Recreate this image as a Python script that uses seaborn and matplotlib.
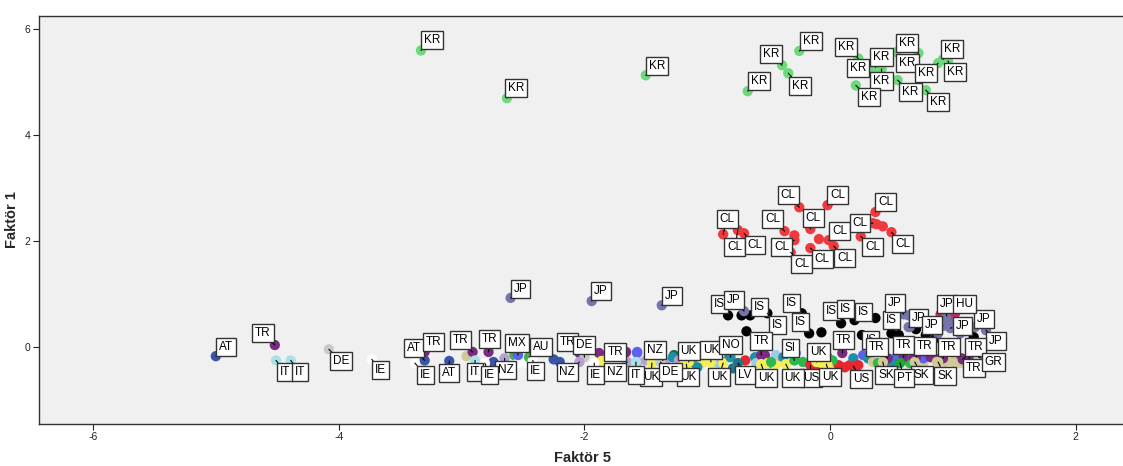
import matplotlib
matplotlib.use("Agg")
import matplotlib.pyplot as plt
import seaborn as sns
import pandas as pd

# ---------------- data ----------------
# labelled points: country code, Faktör 5 (x), Faktör 1 (y)
lab_code = (["KR"] * 19 + ["CL"] * 16 + ["JP"] * 3 + ["IS"] * 10 + ["JP"] * 8 + ["HU"]
            + ["TR"] * 8 + ["GR"] + ["SK"] * 3 + ["PT"] + ["US"] * 2 + ["UK"] * 9
            + ["NO", "LV", "SI"]
            + ["AT", "TR", "IT", "IT", "DE", "IE", "AT", "TR", "IE", "AT", "TR", "IT", "TR",
               "NZ", "IE", "MX", "AU", "IE", "TR", "DE", "NZ", "IE", "TR", "NZ", "NZ", "IT", "DE"])
lab_f5 = [-3.33, -2.63, -1.50, -0.25, -0.39, -0.34, -0.67, 0.23, 0.32, 0.37, 0.42, 0.21,
          0.54, 0.72, 0.55, 0.78, 0.92, 0.88, 0.96,
          -0.87, -0.75, -0.70, -0.37, -0.25, -0.02, -0.29, -0.32, -0.16, -0.16, -0.01, 0.03,
          0.37, 0.35, 0.25, 0.50,
          -2.60, -1.94, -1.37,
          -0.83, -0.65, -0.51, -0.23, -0.17, 0.09, 0.20, 0.26, 0.50, 0.37,
          -0.70, 0.60, 0.64, 0.95, 0.98, 0.92, 1.18, 1.27,
          1.02,
          -0.56, 0.10, 0.47, 0.60, 0.70, 0.92, 1.08, 1.13,
          1.21,
          0.43, 0.69, 0.88,
          0.57,
          -0.16, 0.19,
          -1.15, -0.97, -1.45, -1.17, -0.87, -0.56, -0.36, -0.11, -0.03,
          -0.81, -0.75, -0.29,
          -5.00, -4.52, -4.51, -4.39, -4.08, -3.73, -3.30, -3.30, -3.38, -3.10, -2.91, -2.89,
          -2.78, -2.65, -2.81, -2.54, -2.45, -2.42, -2.04, -2.00, -2.04, -1.92, -1.66, -1.65,
          -1.36, -1.58, -1.38]
lab_f1 = [5.60, 4.70, 5.13, 5.59, 5.32, 5.17, 4.83, 5.45, 5.25, 5.28, 5.25, 4.94,
          5.57, 5.55, 5.04, 4.85, 5.43, 5.36, 5.40,
          2.13, 2.21, 2.15, 2.19, 2.64, 2.68, 2.02, 1.79, 2.23, 1.87, 2.02, 1.91,
          2.55, 2.34, 2.09, 2.17,
          0.93, 0.87, 0.79,
          0.60, 0.60, 0.64, 0.64, 0.26, 0.45, 0.51, 0.23, 0.26, 0.55,
          0.68, 0.62, 0.38, 0.59, 0.36, 0.40, 0.38, 0.32,
          0.64,
          -0.15, -0.11, -0.21, -0.19, -0.19, -0.21, -0.23, -0.19,
          -0.19,
          -0.28, -0.28, -0.28,
          -0.30,
          -0.34, -0.36,
          -0.28, -0.28, -0.30, -0.32, -0.30, -0.32, -0.32, -0.28, -0.32,
          -0.19, -0.30, -0.25,
          -0.17, 0.04, -0.25, -0.25, -0.04, -0.23, -0.25, -0.09, -0.30, -0.26, -0.09, -0.25,
          -0.09, -0.21, -0.30, -0.15, -0.19, -0.25, -0.11, -0.19, -0.28, -0.30, -0.09, -0.28,
          -0.25, -0.28, -0.28]

# unlabelled points (dense band and clusters)
pt_code = ["CL", "CL", "CL", "CL",
           "IS", "IS", "IS", "IS", "IS", "IS", "IS", "IS",
           "JP", "JP", "JP", "JP", "JP", "JP", "HU", "HU", "HU",
           "SK", "AU", "IE", "IE", "AT", "AT", "TR", "UK", "MX", "AT",
           "TR", "MX", "NZ", "NZ", "UK", "NZ", "CZ", "NO", "NZ", "UK", "SI", "CZ", "UK", "NO",
           "UK", "FI", "MX", "NO", "LV", "UK", "US", "NO", "FI", "NZ", "NO",
           "FI", "TR", "NO", "UK", "UK", "SI", "MX", "SI", "US", "UK", "US", "NO", "MX", "US",
           "SI", "US", "NO", "US", "US", "MX", "NO", "SK", "SI", "MX", "NO", "SI", "TR", "SI",
           "SK", "MX", "TR", "TR", "SK", "SK", "SK", "FI", "MX", "TR", "GR", "SK", "UK"]
pt_f5 = [-0.29, -0.09, 0.43, 0.38,
         -0.72, -0.68, -0.07, 0.56, 0.70, 0.86, 1.17, 0.78,
         0.64, 0.65, 0.96, 1.00, 1.06, 0.88, 0.90, 1.02, 0.96,
         -2.96, -2.57, -2.54, -2.47, -2.25, -2.20, -1.88, -1.86, -1.57, -2.74,
         -1.67, -1.57, -1.57, -1.50, -1.45, -1.34, -1.27, -1.28, -1.23, -1.18, -1.12, -1.06,
         -1.04, -1.08,
         -0.96, -0.91, -0.87, -0.82, -0.79, -0.75, -0.69, -0.61, -0.60, -0.44, -0.49,
         -0.44, -0.53, -0.38, -0.51, -0.44, -0.48, -0.28, -0.22, -0.11, -0.07, -0.02, -0.02,
         -0.06, 0.07, 0.02, 0.16, 0.19, 0.23, 0.12, 0.27, 0.31, 0.35, 0.39, 0.53, 0.50, 0.65,
         0.68, 0.74, 0.76, 0.76, 0.82, 0.90, 0.87, 0.94, 1.00, 1.11, 1.15, 1.07, 1.21, 1.05,
         -0.02]
pt_f1 = [2.11, 2.04, 2.28, 2.32,
         0.60, 0.30, 0.28, 0.23, 0.34, 0.17, 0.19, 0.23,
         0.60, 0.38, 0.51, 0.45, 0.26, 0.26, 0.62, 0.66, 0.60,
         -0.17, -0.15, -0.30, -0.30, -0.23, -0.28, -0.11, -0.26, -0.09, -0.28,
         -0.11, -0.11, -0.28, -0.25, -0.30, -0.28, -0.15, -0.19, -0.25, -0.30, -0.28, -0.15,
         -0.30, -0.38,
         -0.30, -0.30, -0.28, -0.15, -0.40, -0.30, -0.25, -0.19, -0.30, -0.19, -0.30,
         -0.15, -0.15, -0.19, -0.30, -0.34, -0.28, -0.11, -0.28, -0.38, -0.30, -0.34, -0.19,
         -0.15, -0.34, -0.25, -0.34, -0.21, -0.34, -0.38, -0.15, -0.21, -0.28, -0.30, -0.21,
         -0.30, -0.30, -0.19, -0.30, -0.30, -0.21, -0.19, -0.21, -0.28, -0.28, -0.28, -0.34,
         -0.21, -0.21, -0.25, -0.30, -0.34]

# label offsets (pixels) for labelled points: layout only
lab_dx = [11, 9, 11, 12, -11, 12, 11, -12, -11, 6, 0, 13, 11, -11, 13, 12, 9, -12, 7,
          4, -3, 11, -12, -11, 10, -13, 11, 3, 12, 11, 11, 10, -13, 12, 11,
          10, 9, 10,
          -9, 9, 10, -10, -9, -10, -9, 9, 0, -12,
          -10, -9, 10, 0, 12, -11, 9, 10, 9,
          0, 1, -11, 0, 9, 6, 13, 5, 15, 3, 7, 7, 4, 1, 8,
          0, 0, -1, 2, -4, 5, 7, 2, 4, 0, 7, -4,
          10, -12, 9, 9, 12, 9, -11, 9, 11, 0, -12, 0, 1, 1, 5, -1, 12, 3, -12, 0, -12, 1,
          -11, -12, -8, 0, 10]
lab_dy = [10, 10, 9, 10, 11, -13, 10, 11, 1, 10, -12, -12, 9, -10, -12, -12, 10, -10, -11,
          15, -17, -12, 12, 12, 10, -7, -12, 11, -11, 9, -12, 10, 0, -11, -12,
          9, 10, 9,
          11, 8, -12, 10, 11, 12, 11, -5, 13, 6,
          11, 11, 9, 12, 2, 1, 8, -11, 9,
          14, 13, 11, 12, 11, 11, 12, -11, -5, -13, -13, -14, -15, -13, -13,
          11, 12, -14, -13, -14, -14, -14, 10, -13, 12, -12, 12,
          9, 12, -12, -12, -12, -11, 12, 10, -12, -12, 12, -12, 13, -12, -12, 12, 10, -11, 11,
          12, -10, -12, 0, -10, 10, -13, -10]

palette = {"AT": "#3A55A8", "TR": "#7A2A80", "IT": "#A8E2E6", "DE": "#C9C9C9",
           "IE": "#FFFFFF", "MX": "#5B62F0", "AU": "#3CB44B", "NZ": "#B3A2D1",
           "UK": "#F4EE5A", "NO": "#1E8FA6", "LV": "#1E7488", "SI": "#2DB84B",
           "US": "#E8262E", "SK": "#D1C998", "PT": "#1FA53F", "HU": "#C13068",
           "GR": "#BEE8B8", "JP": "#7575AB", "KR": "#6DD87C", "CL": "#EE3A3F",
           "IS": "#000000", "CZ": "#0E6B3B", "FI": "#9ECBEA"}

# ---------------- plot ----------------
sns.set_style("white")
plt.rcParams["font.family"] = ["Liberation Sans", "DejaVu Sans"]
plt.rcParams["axes.unicode_minus"] = False

lab = pd.DataFrame({"code": lab_code, "f5": lab_f5, "f1": lab_f1})
pts = pd.DataFrame({"code": pt_code, "f5": pt_f5, "f1": pt_f1})
df = pd.concat([pts, lab], ignore_index=True)

fig = plt.figure(figsize=(11.23, 4.66), dpi=100)
ax = fig.add_axes([0.0347, 0.0901, 0.9680, 0.8756])
ax.set_facecolor("#F0F0F0")

sns.scatterplot(data=df, x="f5", y="f1", hue="code", palette=palette, s=55,
                linewidth=0, legend=False, ax=ax, zorder=3)

for c, x, y, dx, dy in zip(lab_code, lab_f5, lab_f1, lab_dx, lab_dy):
    ax.annotate(c, xy=(x, y), xytext=(dx, dy), textcoords="offset pixels",
                ha="center", va="center", fontsize=8.5, color="black", zorder=5,
                bbox=dict(boxstyle="square,pad=0.25", fc="white", ec="#333333", lw=1.0),
                arrowprops=dict(arrowstyle="-", color="black", lw=0.8,
                                shrinkA=0, shrinkB=0))

ax.set_xlim(-6.44, 2.41)
ax.set_ylim(-1.45, 6.25)
ax.set_xticks([-6, -4, -2, 0, 2])
ax.set_yticks([0, 2, 4, 6])
ax.tick_params(axis="both", direction="out", length=4, width=0.8, labelsize=7.5,
               colors="#222222", bottom=True, left=True, pad=2)
for side in ["left", "bottom", "top"]:
    ax.spines[side].set_color("#333333")
    ax.spines[side].set_linewidth(1.0)
ax.spines["right"].set_visible(False)

ax.set_xlabel("Faktör 5", fontsize=10.5, fontweight="bold", labelpad=6)
ax.set_ylabel("Faktör 1", fontsize=10.5, fontweight="bold", labelpad=4)

fig.savefig("out.png", dpi=100)
